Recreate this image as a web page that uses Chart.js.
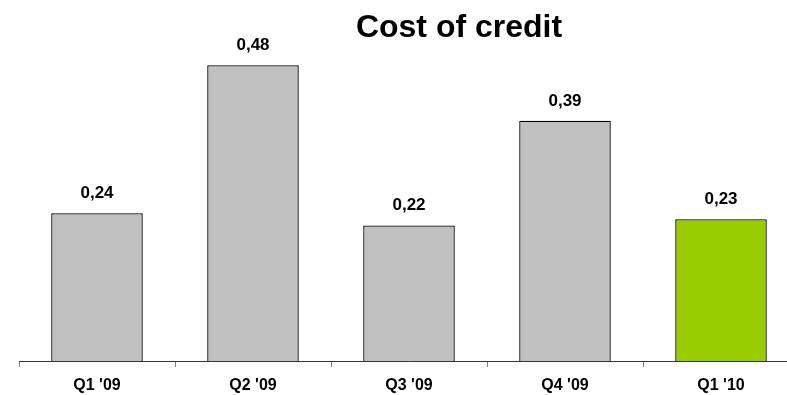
<!DOCTYPE html>
<html>
<head>
<meta charset="utf-8">
<script src="https://cdn.jsdelivr.net/npm/chart.js@4"></script>
<style>
  html, body { margin: 0; padding: 0; background: #fff; overflow: hidden; }
  #wrap { width: 787px; height: 395px; overflow: hidden; }
</style>
</head>
<body>
<div id="wrap"><canvas id="creditChart" width="800" height="395"></canvas></div>
<script>
const quarters = ["Q1 '09", "Q2 '09", "Q3 '09", "Q4 '09", "Q1 '10"];
const costValues = [0.24, 0.48, 0.22, 0.39, 0.23];
const chartTitle = 'Cost of credit';

const FONT = 'Arial, "Liberation Sans", sans-serif';
const GREY = '#c0c0c0';
const GREEN = '#99cc00';
const current = quarters.length - 1;

// title is placed by hand, a bit right of centre
const titlePlugin = {
  id: 'titleText',
  afterDraw(chart) {
    const ctx = chart.ctx;
    ctx.save();
    ctx.font = 'bold 32px ' + FONT;
    ctx.fillStyle = '#000';
    ctx.textAlign = 'center';
    ctx.textBaseline = 'alphabetic';
    ctx.fillText(chartTitle, 459, 37);
    ctx.restore();
  }
};

// value above each bar, decimal comma
const valueLabels = {
  id: 'valueLabels',
  afterDatasetsDraw(chart) {
    const ctx = chart.ctx;
    const meta = chart.getDatasetMeta(0);
    ctx.save();
    ctx.font = 'bold 17px ' + FONT;
    ctx.fillStyle = '#000';
    ctx.textAlign = 'center';
    ctx.textBaseline = 'alphabetic';
    meta.data.forEach((bar, i) => {
      const txt = costValues[i].toFixed(2).replace('.', ',');
      ctx.fillText(txt, bar.x, bar.y - 15);
    });
    ctx.restore();
  }
};

new Chart(document.getElementById('creditChart').getContext('2d'), {
  type: 'bar',
  data: {
    labels: quarters,
    datasets: [{
      data: costValues,
      backgroundColor: costValues.map((v, i) => i === current ? GREEN : GREY),
      borderColor: '#000',
      borderWidth: 1.3,
      categoryPercentage: 1,
      barPercentage: 0.587
    }]
  },
  options: {
    responsive: false,
    animation: false,
    layout: { padding: { left: 19, right: 1, top: 53, bottom: 0 } },
    plugins: {
      legend: { display: false },
      title: { display: false },
      tooltip: { enabled: false }
    },
    scales: {
      x: {
        afterFit(scale) { scale.height = 34; },
        grid: {
          offset: true,
          drawOnChartArea: false,
          drawTicks: true,
          tickLength: 6,
          color: '#808080'
        },
        border: { display: true, color: '#333', width: 1 },
        ticks: {
          color: '#000',
          font: { family: FONT, size: 16, weight: 'bold' },
          padding: 9,
          maxRotation: 0
        }
      },
      y: {
        display: false,
        min: 0,
        max: 0.5
      }
    }
  },
  plugins: [titlePlugin, valueLabels]
});
</script>
</body>
</html>
